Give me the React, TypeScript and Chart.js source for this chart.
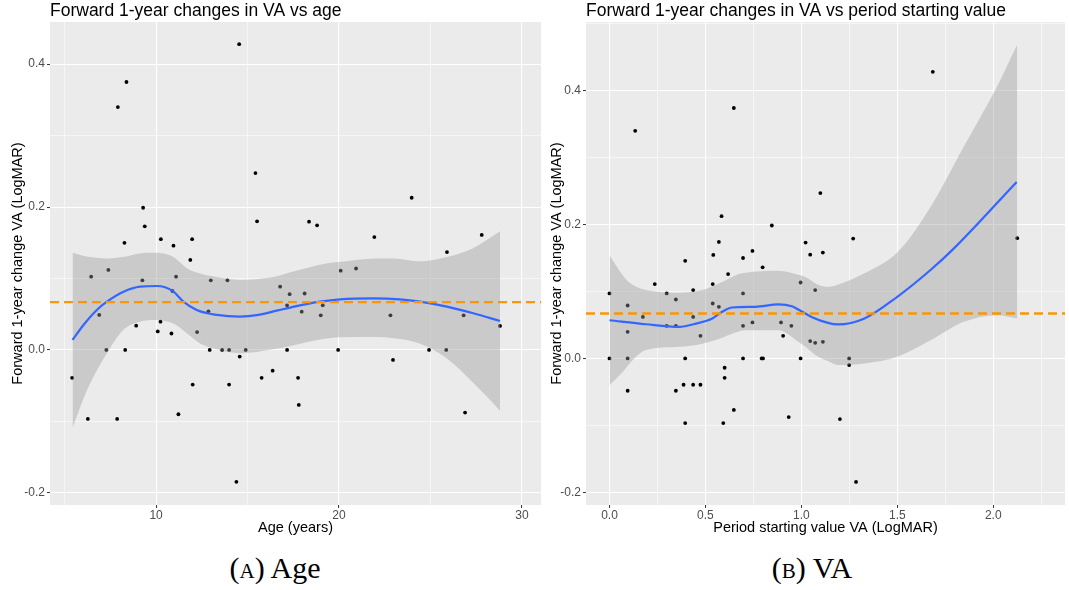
import React, { useEffect, useRef } from "react";
import { Chart, registerables } from "chart.js";
Chart.register(...registerables);

const SANS = "'Liberation Sans', Arial, sans-serif";

// ---------- Panel A: age ----------
const ageYears = [5.41, 6.27, 6.45, 6.89, 7.28, 7.39, 7.87, 7.91, 8.27, 8.31, 8.38, 8.91, 9.25, 9.29, 9.38, 10.09, 10.24, 10.26, 10.84, 10.89, 10.95, 11.09, 11.22, 11.87, 11.97, 12.0, 12.24, 12.86, 12.93, 12.99, 13.61, 13.9, 13.99, 13.99, 14.39, 14.54, 14.57, 14.9, 15.43, 15.52, 15.77, 16.37, 16.78, 17.16, 17.16, 17.3, 17.76, 17.8, 17.96, 18.12, 18.36, 18.8, 19.0, 19.11, 19.95, 20.09, 20.93, 21.93, 22.81, 22.95, 23.97, 24.92, 25.86, 25.9, 26.81, 26.89, 27.8, 28.8];
const ageChange = [-0.039, -0.0965, 0.1025, 0.049, 0.0, 0.112, -0.0965, 0.34, 0.15, 0.0, 0.375, 0.034, 0.0975, 0.199, 0.173, 0.026, 0.0396, 0.155, 0.023, 0.0825, 0.146, 0.1025, -0.09, 0.126, 0.155, -0.0485, 0.025, 0.054, 0.0, 0.0975, 0.0, 0.0975, 0.0, -0.0485, -0.1846, 0.428, -0.0093, 0.0, 0.2476, 0.18, -0.039, -0.029, 0.0885, 0.0625, 0.0, 0.078, -0.039, -0.077, 0.0536, 0.079, 0.1795, 0.1744, 0.0485, 0.0625, 0.0, 0.111, 0.114, 0.158, 0.0485, -0.014, 0.213, 0.0, 0.0, 0.137, 0.0485, -0.0877, 0.161, 0.0336];

const ageSmoothX = [5.43, 6.03, 6.76, 7.31, 8.22, 9.13, 10.04, 10.49, 10.95, 11.49, 12.22, 13.32, 14.59, 15.6, 16.6, 17.6, 18.96, 20.05, 21.87, 23.33, 24.43, 25.89, 27.34, 28.8];
const ageSmoothY = [0.014, 0.035, 0.056, 0.0676, 0.0816, 0.0886, 0.0895, 0.0877, 0.0816, 0.0676, 0.056, 0.049, 0.0466, 0.049, 0.055, 0.061, 0.0676, 0.0709, 0.0723, 0.0709, 0.0676, 0.0606, 0.0513, 0.0406];

const ageBandX = [5.43, 6.0, 6.4, 7.3, 8.2, 9.1, 10.0, 10.4, 10.95, 11.7, 12.4, 13.1, 14.6, 16.4, 17.4, 19.3, 20.0, 22.0, 23.0, 24.4, 25.9, 27.3, 28.8];
const ageBandUpper = [0.136, 0.132, 0.13, 0.128, 0.13, 0.135, 0.136, 0.135, 0.13, 0.114, 0.107, 0.103, 0.098, 0.102, 0.109, 0.121, 0.123, 0.128, 0.128, 0.124, 0.13, 0.142, 0.166];
const ageBandLower = [-0.1095, -0.07, -0.0466, -0.005, 0.028, 0.0396, 0.042, 0.041, 0.037, 0.023, 0.009, 0.0023, -0.0046, 0.001, 0.006, 0.016, 0.0177, 0.018, 0.0163, 0.009, -0.012, -0.045, -0.085];

const ageXTicks = [5, 10, 15, 20, 25, 30];
const ageXTickLabels = ["", "10", "", "20", "", "30"];
const ageYTicks = [-0.2, -0.1, 0, 0.1, 0.2, 0.3, 0.4];
const ageYTickLabels = ["-0.2", "", "0.0", "", "0.2", "", "0.4"];

// ---------- Panel B: starting VA ----------
const vaStart = [0.0, 0.0, 0.0946, 0.0946, 0.0946, 0.0946, 0.134, 0.174, 0.236, 0.298, 0.298, 0.346, 0.346, 0.346, 0.386, 0.3945, 0.3945, 0.3945, 0.436, 0.436, 0.436, 0.474, 0.474, 0.538, 0.538, 0.541, 0.57, 0.57, 0.584, 0.593, 0.6, 0.6, 0.618, 0.648, 0.648, 0.696, 0.696, 0.696, 0.696, 0.745, 0.745, 0.793, 0.8, 0.798, 0.846, 0.894, 0.905, 0.934, 0.948, 0.996, 0.996, 1.022, 1.046, 1.046, 1.072, 1.072, 1.099, 1.112, 1.112, 1.201, 1.249, 1.249, 1.27, 1.285, 1.685, 2.125];
const vaChange = [0.097, 0.0, 0.079, 0.0397, 0.0, -0.0483, 0.34, 0.062, 0.111, 0.097, 0.0487, 0.088, 0.0487, -0.0483, -0.0394, 0.1457, 0.0, -0.0966, 0.102, 0.062, -0.0394, 0.0337, -0.0394, 0.111, 0.082, 0.1546, 0.174, 0.077, 0.2124, -0.0966, -0.014, -0.029, 0.126, 0.374, -0.077, 0.15, 0.097, 0.0487, 0.0, 0.1606, 0.0537, 0.0, 0.0, 0.136, 0.1985, 0.0537, 0.0337, -0.0876, 0.0487, 0.1134, 0.0, 0.173, 0.155, 0.0258, 0.102, 0.0233, 0.247, 0.158, 0.0248, -0.0906, 0.0, -0.01, 0.179, -0.1846, 0.428, 0.1796];

const vaSmoothX = [0.0, 0.19, 0.363, 0.45, 0.536, 0.587, 0.639, 0.76, 0.88, 0.95, 0.984, 1.053, 1.139, 1.19, 1.329, 1.5, 1.673, 1.794, 2.122];
const vaSmoothY = [0.057, 0.051, 0.047, 0.052, 0.0597, 0.0696, 0.076, 0.077, 0.0806, 0.078, 0.073, 0.062, 0.053, 0.0507, 0.0597, 0.092, 0.132, 0.164, 0.2636];

const vaBandX = [0.0, 0.07, 0.105, 0.19, 0.363, 0.484, 0.587, 0.674, 0.708, 0.88, 0.984, 1.018, 1.087, 1.139, 1.19, 1.329, 1.5, 1.673, 1.846, 2.018, 2.125];
const vaBandUpper = [0.154, 0.124, 0.113, 0.102, 0.098, 0.102, 0.114, 0.126, 0.128, 0.131, 0.125, 0.122, 0.11, 0.107, 0.11, 0.127, 0.158, 0.226, 0.316, 0.405, 0.469];
const vaBandLower = [-0.04, -0.02, -0.0075, 0.0124, 0.0173, 0.022, 0.031, 0.04, 0.042, 0.042, 0.025, 0.018, 0.0024, -0.004, -0.01, -0.0075, 0.0024, 0.027, 0.0546, 0.0646, 0.0597];

const vaXTicks = [0, 0.25, 0.5, 0.75, 1, 1.25, 1.5, 1.75, 2, 2.25];
const vaXTickLabels = ["0.0", "", "0.5", "", "1.0", "", "1.5", "", "2.0", ""];
const vaYTicks = [-0.2, -0.1, 0, 0.1, 0.2, 0.3, 0.4, 0.5];
const vaYTickLabels = ["-0.2", "", "0.0", "", "0.2", "", "0.4", ""];

const meanChange = 0.067;

const panelBg = {
  id: "panelBg",
  beforeDraw(chart: any) {
    const { ctx, chartArea: a } = chart;
    ctx.save();
    ctx.fillStyle = "#EBEBEB";
    ctx.fillRect(a.left, a.top, a.right - a.left, a.bottom - a.top);
    ctx.restore();
  },
};

function axis(ticks: number[], labels: string[], min: number, max: number, title: string, titlePadding: any, tickPad: number, fit: (s: any) => void) {
  const isMajor = (ctx: any) => {
    const v = ctx && ctx.tick ? ctx.tick.value : null;
    const i = ticks.findIndex((t) => Math.abs(t - v) < 1e-9);
    return i >= 0 && labels[i] !== "";
  };
  return {
    type: "linear",
    min,
    max,
    afterBuildTicks: (scale: any) => {
      scale.ticks = ticks.map((v) => ({ value: v }));
    },
    afterFit: fit,
    border: { display: false },
    grid: {
      color: "#FFFFFF",
      lineWidth: (ctx: any) => (isMajor(ctx) ? 1.1 : 0.55),
      tickColor: (ctx: any) => (isMajor(ctx) ? "#333333" : "rgba(0,0,0,0)"),
      tickLength: 3,
      tickWidth: 1,
      drawTicks: true,
    },
    ticks: {
      autoSkip: false,
      maxRotation: 0,
      padding: tickPad,
      color: "#4D4D4D",
      font: { family: SANS, size: 12 },
      callback: (_v: any, i: number) => labels[i],
    },
    title: {
      display: true,
      text: title,
      color: "#000000",
      font: { family: SANS, size: 14.5 },
      padding: titlePadding,
    },
  };
}

function makeConfig(p: any) {
  const pts = p.xs.map((x: number, i: number) => ({ x, y: p.ys[i] }));
  const smooth = p.sx.map((x: number, i: number) => ({ x, y: p.sy[i] }));
  const up = p.bx.map((x: number, i: number) => ({ x, y: p.bu[i] }));
  const lo = p.bx.map((x: number, i: number) => ({ x, y: p.bl[i] }));
  return {
    type: "scatter",
    data: {
      datasets: [
        {
          type: "line",
          data: [
            { x: p.xMin, y: meanChange },
            { x: p.xMax, y: meanChange },
          ],
          borderColor: "#FF9500",
          borderWidth: 2.4,
          borderDash: [9, 5],
          pointRadius: 0,
          fill: false,
        },
        {
          type: "line",
          data: smooth,
          borderColor: "#3366FF",
          borderWidth: 2.2,
          pointRadius: 0,
          cubicInterpolationMode: "monotone",
          fill: false,
        },
        {
          type: "line",
          data: up,
          borderWidth: 0,
          borderColor: "rgba(0,0,0,0)",
          pointRadius: 0,
          cubicInterpolationMode: "monotone",
          backgroundColor: "rgba(153,153,153,0.4)",
          fill: "+1",
        },
        {
          type: "line",
          data: lo,
          borderWidth: 0,
          borderColor: "rgba(0,0,0,0)",
          pointRadius: 0,
          cubicInterpolationMode: "monotone",
          fill: false,
        },
        {
          type: "scatter",
          data: pts,
          pointRadius: 1.9,
          pointBorderWidth: 0,
          pointBackgroundColor: "#000000",
          backgroundColor: "#000000",
        },
      ],
    },
    options: {
      responsive: false,
      animation: false,
      layout: { padding: p.padding },
      plugins: {
        legend: { display: false },
        tooltip: { enabled: false },
        title: {
          display: true,
          text: p.title,
          align: "start",
          fullSize: false,
          color: "#000000",
          font: { family: SANS, size: 17.5, weight: "normal" },
          padding: { top: 1, bottom: 0 },
        },
      },
      scales: {
        x: axis(p.xTicks, p.xLabels, p.xMin, p.xMax, p.xTitle, { top: 0, bottom: 3.5 }, 0, (s: any) => {
          s.height = 35;
        }),
        y: axis(p.yTicks, p.yLabels, p.yMin, p.yMax, "Forward 1-year change VA (LogMAR)", { top: p.yTitlePad, bottom: 0 }, 2, (s: any) => {
          s.width = p.yAxisWidth;
        }),
      },
    },
    plugins: [panelBg],
  };
}

function Panel(props: { p: any; left: number; width: number }) {
  const ref = useRef<HTMLCanvasElement>(null);
  useEffect(() => {
    const chart = new Chart(ref.current as HTMLCanvasElement, makeConfig(props.p) as any);
    return () => chart.destroy();
  }, []);
  return (
    <canvas
      ref={ref}
      width={props.width}
      height={540}
      style={{ position: "absolute", left: props.left, top: 0, width: props.width, height: 540 }}
    />
  );
}

const panelA = {
  title: "Forward 1-year changes in VA vs age",
  xTitle: "Age (years)",
  xs: ageYears, ys: ageChange, sx: ageSmoothX, sy: ageSmoothY,
  bx: ageBandX, bu: ageBandUpper, bl: ageBandLower,
  xTicks: ageXTicks, xLabels: ageXTickLabels, yTicks: ageYTicks, yLabels: ageYTickLabels,
  xMin: 4.2, xMax: 31.04, yMin: -0.217, yMax: 0.459,
  yAxisWidth: 50, yTitlePad: 9,
  padding: { left: 0, right: 4, top: 0, bottom: 0 },
};

const panelB = {
  title: "Forward 1-year changes in VA vs period starting value",
  xTitle: "Period starting value VA (LogMAR)",
  xs: vaStart, ys: vaChange, sx: vaSmoothX, sy: vaSmoothY,
  bx: vaBandX, bu: vaBandUpper, bl: vaBandLower,
  xTicks: vaXTicks, xLabels: vaXTickLabels, yTicks: vaYTicks, yLabels: vaYTickLabels,
  xMin: -0.1225, xMax: 2.374, yMin: -0.219, yMax: 0.5025,
  yAxisWidth: 41, yTitlePad: 3,
  padding: { left: 0, right: 0, top: 0, bottom: 0 },
};

const captionStyle: any = {
  position: "absolute",
  top: 549,
  width: 300,
  textAlign: "center",
  fontFamily: "'Liberation Serif', 'DejaVu Serif', serif",
  fontSize: 30,
  lineHeight: "38px",
  color: "#000",
};

export default function App() {
  return (
    <div style={{ position: "fixed", left: 0, top: 0, width: 1069, height: 590, background: "#FFFFFF", overflow: "hidden" }}>
      <Panel p={panelA} left={0} width={545} />
      <Panel p={panelB} left={545} width={524} />
      <div style={{ ...captionStyle, left: 275 - 150 }}>
        <span style={{ fontVariant: "small-caps" }}>(a)</span> Age
      </div>
      <div style={{ ...captionStyle, left: 812 - 150 }}>
        <span style={{ fontVariant: "small-caps" }}>(b)</span> VA
      </div>
    </div>
  );
}
